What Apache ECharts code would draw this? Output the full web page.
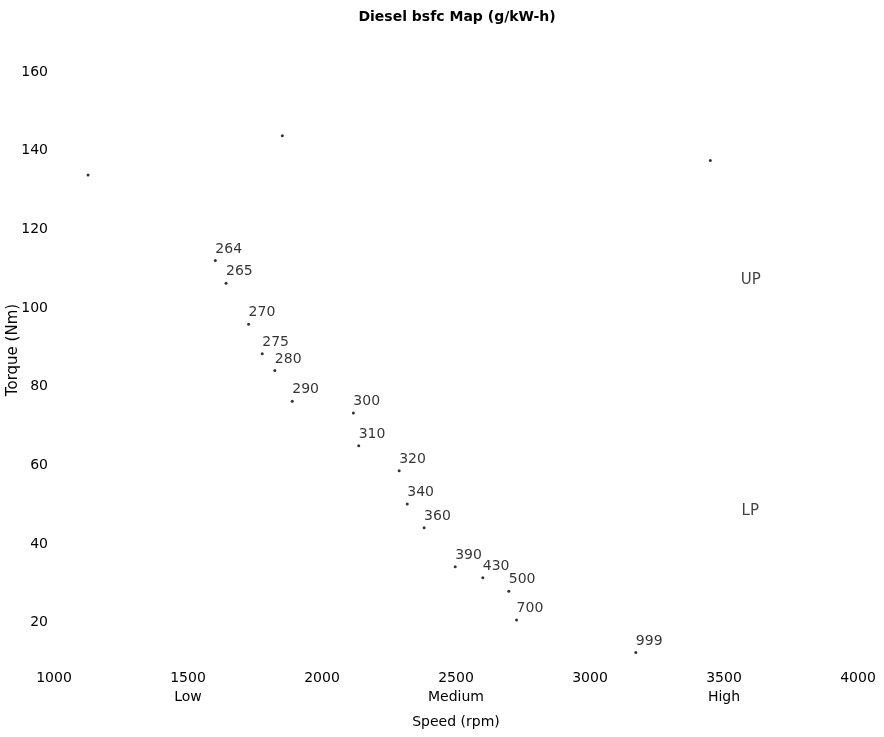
<!DOCTYPE html>
<html><head><meta charset="utf-8">
<script src="https://cdn.jsdelivr.net/npm/echarts@6/dist/echarts.min.js"></script>
<style>html,body{margin:0;padding:0;background:#fff}#c{width:884px;height:737px}</style>
</head><body><div id="c"></div>
<script>
const titleText = 'Diesel bsfc Map (g/kW-h)';
const xAxisName = 'Speed (rpm)';
const yAxisName = 'Torque (Nm)';
// labelled bsfc points
const speed  = [1602, 1642, 1726, 1777, 1824, 1889, 2117, 2137, 2288, 2318, 2381, 2497, 2600, 2697, 2726, 3171];
const torque = [112.1, 106.3, 95.9, 88.4, 84.1, 76.3, 73.3, 65.0, 58.6, 50.2, 44.1, 34.2, 31.4, 28.0, 20.7, 12.4];
const bsfc   = ['264', '265', '270', '275', '280', '290', '300', '310', '320', '340', '360', '390', '430', '500', '700', '999'];
// unlabelled points
const extraSpeed  = [1127, 1852, 3449];
const extraTorque = [133.8, 143.8, 137.5];
// region labels
const regionNames  = ['UP', 'LP'];
const regionSpeed  = [3600, 3598];
const regionTorque = [107.1, 48.4];
// x-axis band names under ticks
const bandTicks = [1500, 2500, 3500];
const bandNames = ['Low', 'Medium', 'High'];

const FONT = '"DejaVu Sans", "Liberation Sans", Arial, sans-serif';
const chart = echarts.init(document.getElementById('c'));

const mainData = speed.map((s, i) => [s, torque[i], bsfc[i]]);
const extraData = extraSpeed.map((s, i) => [s, extraTorque[i]]);
const regionData = regionSpeed.map((s, i) => [s, regionTorque[i], regionNames[i]]);

chart.setOption({
  backgroundColor: '#fff',
  animation: false,
  title: {
    text: titleText, left: 452, top: 5, textAlign: 'center',
    textStyle: { fontFamily: FONT, fontSize: 14, fontWeight: 'bold', color: '#000' }
  },
  grid: { left: 54, right: 26, top: 72, bottom: 75, outerBoundsMode: 'none', containLabel: false },
  xAxis: {
    type: 'value', min: 1000, max: 4000, interval: 500,
    name: xAxisName, nameLocation: 'middle', nameGap: 53, nameMoveOverlap: false,
    nameTextStyle: { fontFamily: FONT, fontSize: 14, color: '#000' },
    axisLine: { show: false }, axisTick: { show: false }, splitLine: { show: false },
    axisLabel: {
      margin: 7, fontFamily: FONT, fontSize: 14, color: '#000', lineHeight: 19,
      formatter: v => {
        const k = bandTicks.indexOf(v);
        return k >= 0 ? v + '\n' + bandNames[k] : String(v);
      }
    }
  },
  yAxis: {
    type: 'value', min: 10, max: 160, splitNumber: 7,
    name: yAxisName, nameLocation: 'middle', nameGap: 33, nameRotate: 90, nameMoveOverlap: false,
    nameTextStyle: { fontFamily: FONT, fontSize: 15, color: '#000', padding: [0, 0, 0, 34] },
    axisLine: { show: false }, axisTick: { show: false }, splitLine: { show: false },
    axisLabel: {
      margin: 6, fontFamily: FONT, fontSize: 14, color: '#000', showMinLabel: false,
      formatter: v => (v % 20 === 0 ? String(v) : '')
    }
  },
  series: [
    {
      type: 'scatter', data: mainData, symbol: 'circle', symbolSize: 3,
      itemStyle: { color: '#000' },
      label: {
        show: true, position: 'top', align: 'left', distance: 3,
        formatter: p => p.value[2],
        fontFamily: FONT, fontSize: 14, color: '#000'
      }
    },
    {
      type: 'scatter', data: extraData, symbol: 'circle', symbolSize: 3,
      itemStyle: { color: '#000' }
    },
    {
      type: 'scatter', data: regionData, symbolSize: 0,
      label: {
        show: true, position: 'inside', formatter: p => p.value[2],
        fontFamily: FONT, fontSize: 15, color: '#111'
      }
    }
  ]
});
</script></body></html>
